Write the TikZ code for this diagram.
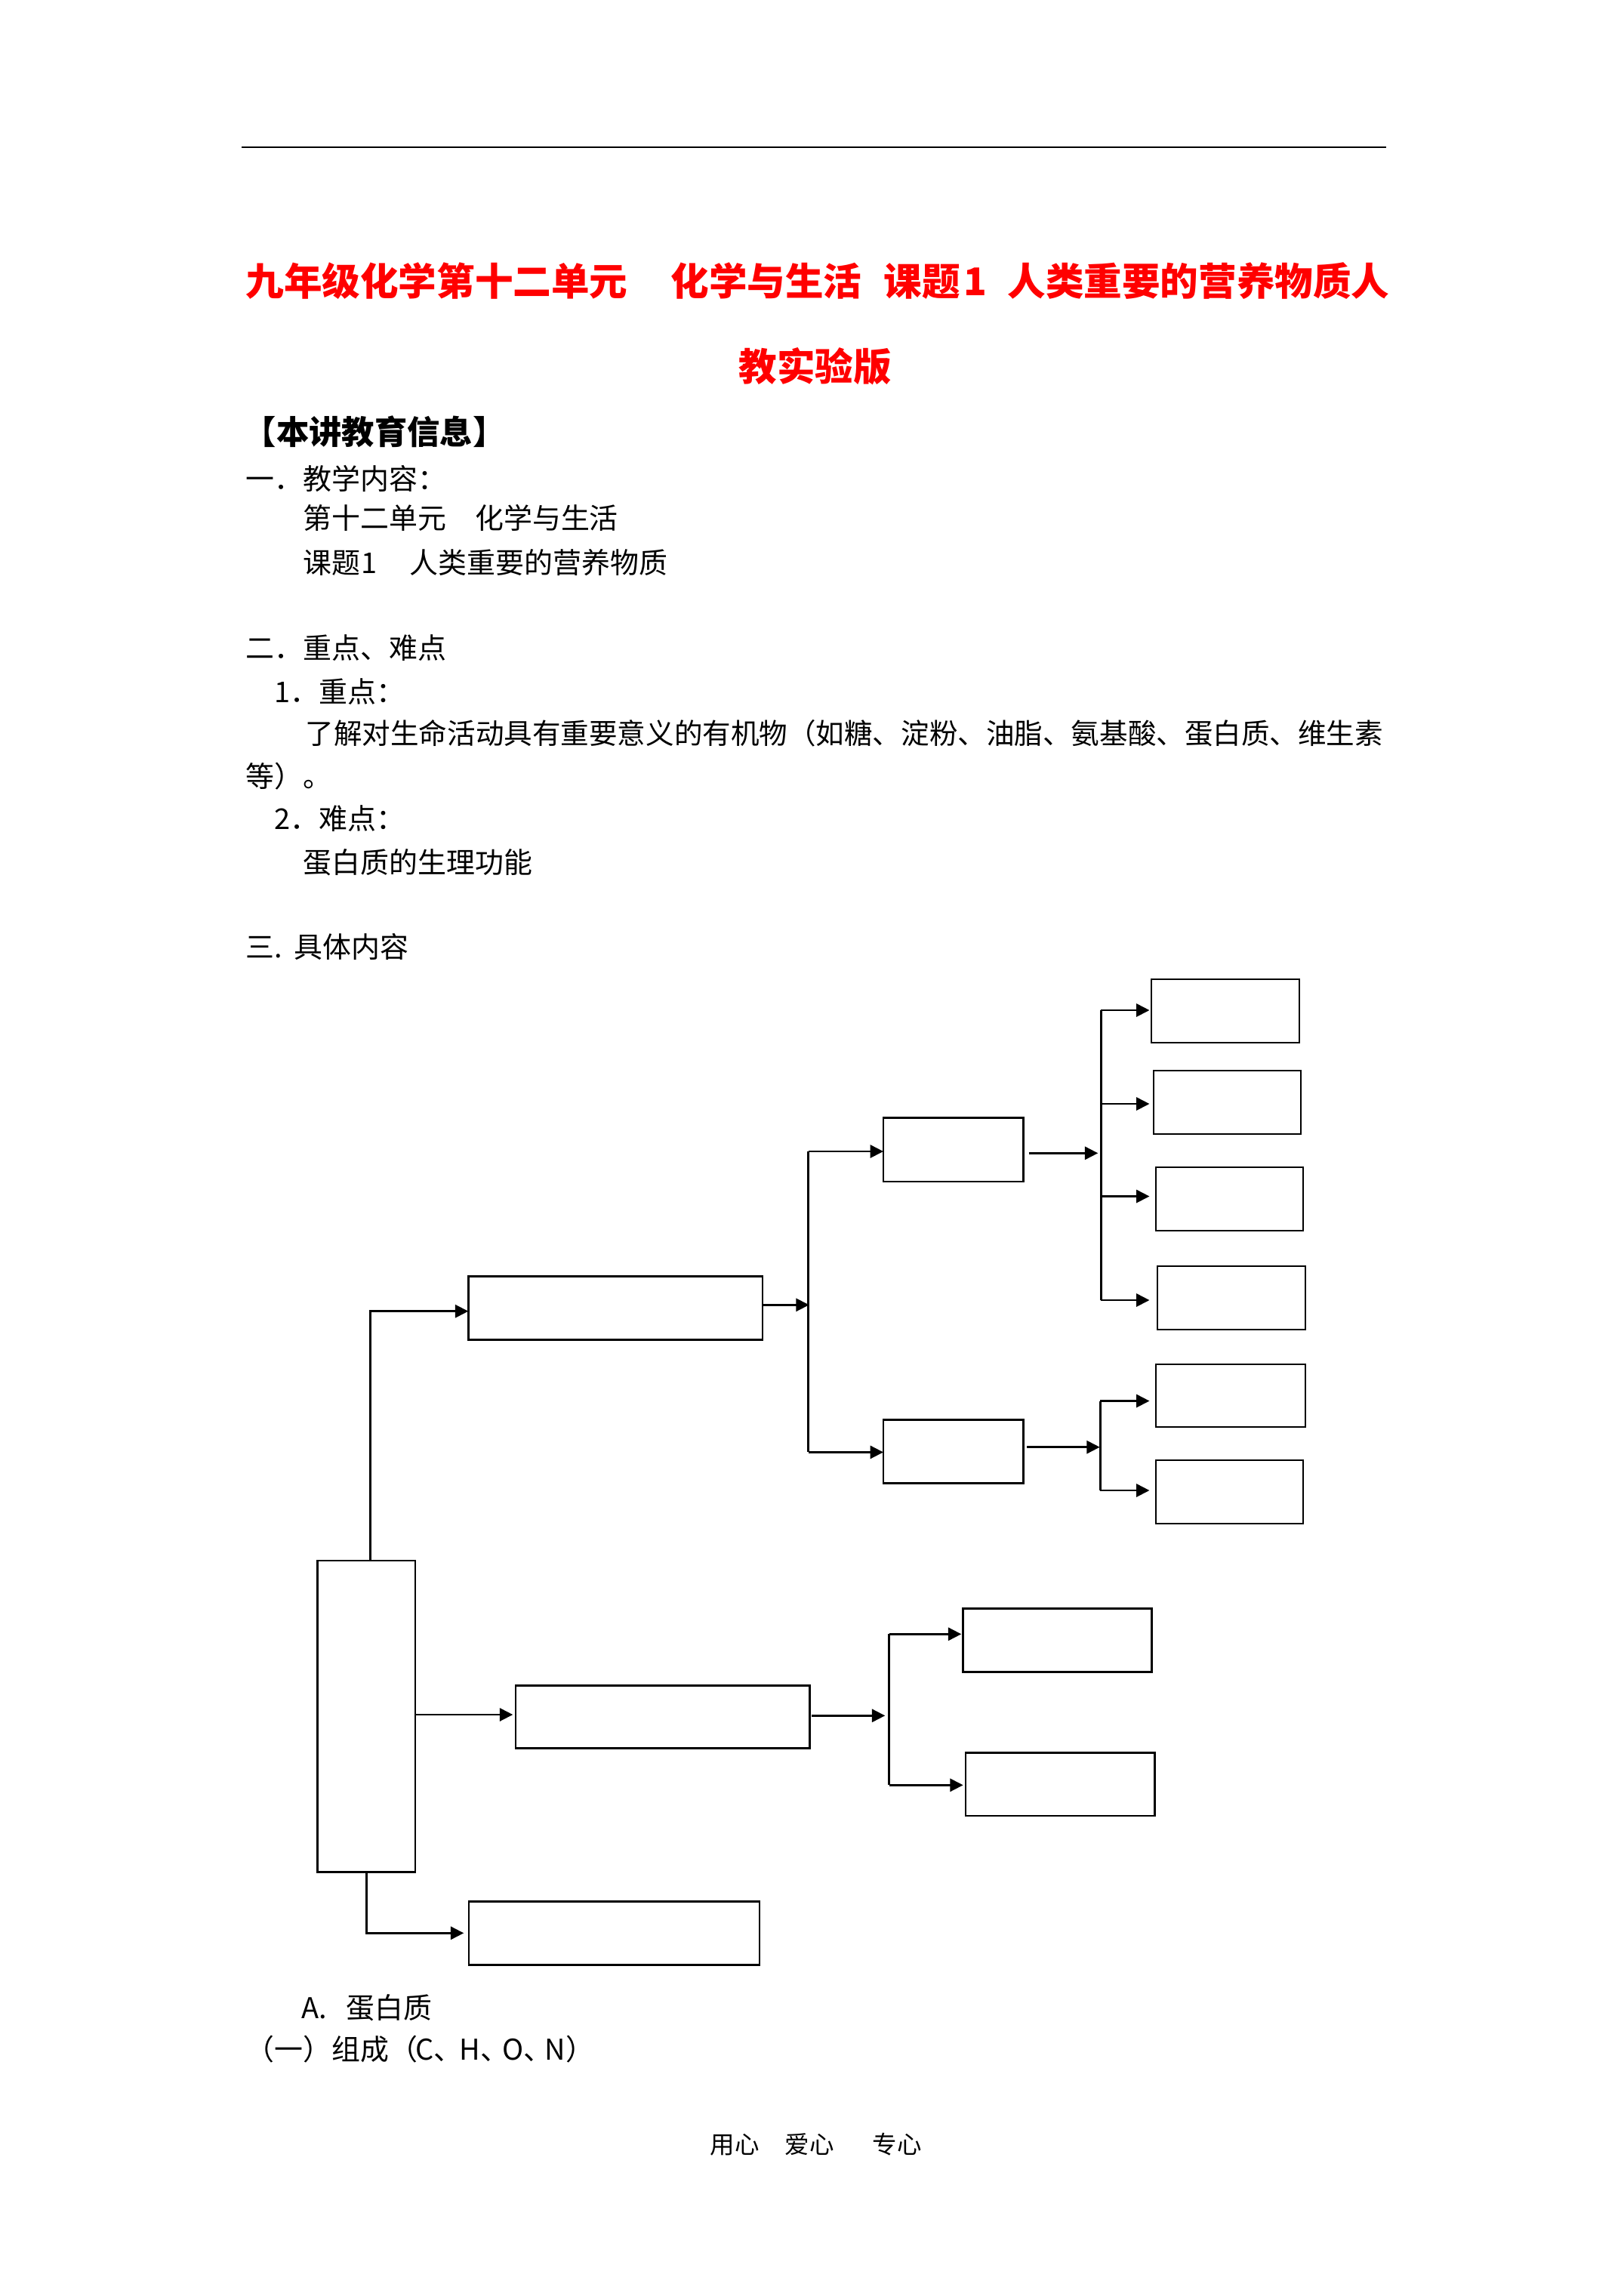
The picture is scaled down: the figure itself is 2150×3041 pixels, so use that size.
\documentclass[tikz,border=0pt]{standalone}
\usepackage{fontspec}
\newfontfamily\cjk{Noto Sans CJK SC}
\usetikzlibrary{arrows.meta,calc}
\definecolor{tred}{RGB}{255,0,0}
\newcommand\mybox[5]{\node[bx,minimum width={(#4-#2)*0.27687pt},minimum height={(#5-#3)*0.27687pt}] (#1) at ({(#2+#4)/2},{(#3+#5)/2}) {};}
\begin{document}
\begin{tikzpicture}[x=0.27687pt,y=-0.27687pt,
  ln/.style={line width=0.8pt},
  arr/.style={line width=0.8pt,-{Triangle[length=4.8pt,width=4.7pt]}},
  bx/.style={draw,line width=0.8pt,inner sep=0pt,outer sep=0pt},
  body/.style={anchor=base west,inner sep=0pt,font=\cjk\fontsize{10.5}{12}\selectfont},
  bodyw/.style={anchor=base west,inner sep=0pt,font=\cjk\fontsize{10.4}{12}\selectfont},
  ttl/.style={anchor=base west,inner sep=0pt,text=tred,font=\cjk\bfseries\fontsize{14}{16}\selectfont},
  hdr/.style={anchor=base west,inner sep=0pt,font=\cjk\bfseries\fontsize{12}{14}\selectfont},
  foot/.style={anchor=base west,inner sep=0pt,font=\cjk\fontsize{9}{11}\selectfont}]
\useasboundingbox (0,0) rectangle (2150,3041);
% header rule
\draw[line width=0.75pt] (320,195) -- (1836,195);
% title
\node[ttl] (t1) at (325,391.7) {九年级化学第十二单元};
\node[ttl] (t2) at (888,391.7) {化学与生活};
\node[ttl] (t3) at (1170,391.7) {课题};
\node[ttl,anchor=base] (t4) at (1292,391.7) {1};
\node[ttl] (t5) at (1334,391.7) {人类重要的营养物质人};
\node[ttl] (t6) at (978,504) {教实验版};
% info header
\node[hdr] (h0) at (322,588.5) {【本讲教育信息】};
\node[body] (l1) at (325,648.4) {一．教学内容：};
\node[body] (l2) at (401,700.4) {第十二单元　化学与生活};
\node[body] (l3a) at (401,759.4) {课题};
\node[body] (l3b) at (478,759.4) {1};
\node[body] (l3c) at (542,759.4) {人类重要的营养物质};
\node[body] (l4) at (325,872.4) {二．重点、难点};
\node[body] (l5) at (363,930.4) {1．重点：};
\node[bodyw] (l6) at (404,985.4) {了解对生命活动具有重要意义的有机物（如糖、淀粉、油脂、氨基酸、蛋白质、维生素};
\node[body] (l7) at (325,1042.4) {等）。};
\node[body] (l8) at (363,1098.4) {2．难点：};
\node[body] (l9) at (401,1156.4) {蛋白质的生理功能};
\node[body] (l10a) at (325,1268.4) {三.};
\node[body] (l10b) at (389,1268.4) {具体内容};
% boxes
\mybox{P}{420.7}{2067}{550}{2479.7}
\mybox{A}{620.3}{1690.7}{1010}{1774.3}
\mybox{B}{1170}{1480.7}{1355.7}{1565}
\mybox{C}{1170}{1880.3}{1355.7}{1964.3}
\mybox{R1}{1525}{1297}{1721}{1381}
\mybox{R2}{1528}{1418}{1723}{1502}
\mybox{R3}{1531}{1546}{1726}{1630}
\mybox{R4}{1533}{1677}{1729}{1761}
\mybox{R5}{1531}{1807}{1729}{1890}
\mybox{R6}{1531}{1934}{1726}{2018}
\mybox{D}{683}{2232.5}{1072.3}{2315.3}
\mybox{E}{1275.3}{2130.5}{1525.7}{2214.3}
\mybox{F}{1279}{2321.3}{1529.7}{2405}
\mybox{G}{621}{2518.3}{1006}{2602.3}
% P -> A
\coordinate (pa) at (490.3,1736.7);
\draw[arr] (P.north -| pa) -- (pa) -- (A.west |- pa);
% A -> V1 -> B, C
\coordinate (v1t) at (1070.5,1525);
\coordinate (v1b) at (1070.5,1923.4);
\coordinate (v1m) at (1071.7,1728.3);
\draw[ln] (v1t) -- (v1b);
\draw[arr] (A.east |- v1m) -- (v1m);
\draw[arr] (v1t) -- (B.west |- v1t);
\draw[arr] (v1b) -- (C.west |- v1b);
% B -> V2 -> R1..R4
\coordinate (tipR) at (1522.5,0);
\coordinate (v2m) at (1454.3,1527.3);
\draw[arr] ($(B.east |- v2m)+(7,0)$) -- (v2m);
\coordinate (v2a) at (1458.3,1338);
\coordinate (v2b) at (1458.3,1462);
\coordinate (v2c) at (1458.3,1584.5);
\coordinate (v2d) at (1458.3,1722);
\draw[ln] (v2a) -- (v2d);
\draw[arr] (v2a) -- (v2a -| tipR);
\draw[arr] (v2b) -- (v2b -| tipR);
\draw[arr] (v2c) -- (v2c -| tipR);
\draw[arr] (v2d) -- (v2d -| tipR);
% C -> V3 -> R5, R6
\coordinate (v3m) at (1456.7,1916.7);
\draw[arr] ($(C.east |- v3m)+(4.3,0)$) -- (v3m);
\coordinate (v3a) at (1457.3,1855.5);
\coordinate (v3b) at (1457.3,1974);
\draw[ln] (v3a) -- (v3b);
\draw[arr] (v3a) -- (v3a -| tipR);
\draw[arr] (v3b) -- (v3b -| tipR);
% P -> D
\coordinate (pd) at (679.3,2271);
\draw[arr] (P.east |- pd) -- (pd);
% D -> V4 -> E, F
\coordinate (v4m) at (1172.3,2272.3);
\draw[arr] ($(D.east |- v4m)+(2.7,0)$) -- (v4m);
\coordinate (v4a) at (1177.7,2164.3);
\coordinate (v4b) at (1177.7,2364.3);
\draw[ln] (v4a) -- (v4b);
\draw[arr] (v4a) -- ($(E.west |- v4a)+(-2,0)$);
\draw[arr] (v4b) -- ($(F.west |- v4b)+(-3.3,0)$);
% P -> G
\coordinate (pg) at (485.3,2560.3);
\draw[arr] (P.south -| pg) -- (pg) -- ($(G.west |- pg)+(-6.7,0)$);
% text below
\node[body] (a1) at (399,2673) {A.};
\node[body] (a2) at (458,2673) {蛋白质};
\node[body] (a3) at (325,2728.4) {（一）组成（};
\node[body] (a4) at (550,2728.4) {C、};
\node[body] (a5) at (608,2728.4) {H、};
\node[body] (a6) at (665,2728.4) {O、};
\node[body] (a7) at (721,2728.4) {N）};
% footer
\node[foot] (f1) at (940,2852) {用心};
\node[foot] (f2) at (1039,2852) {爱心};
\node[foot] (f3) at (1155,2852) {专心};
\end{tikzpicture}
\end{document}
